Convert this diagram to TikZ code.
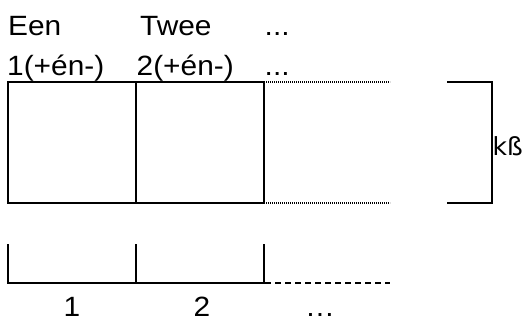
\documentclass[tikz,border=0pt]{standalone}
\usepackage{fontspec}
\setmainfont[FakeStretch=1.07]{Liberation Sans}
\newfontfamily\kfont{DejaVu Sans}
\begin{document}
\begin{tikzpicture}[x=1bp,y=-1bp,
  lbl/.style={inner sep=0pt,anchor=base west,font=\fontsize{28}{28}\selectfont},
  clbl/.style={inner sep=0pt,anchor=base,font=\fontsize{28}{28}\selectfont},
  solidline/.style={line width=2.2bp},
  dotline/.style={line width=1.2bp,dash pattern=on 1.2bp off 0.8bp},
  dashline/.style={line width=1.6bp,dash pattern=on 6bp off 4bp}]
\useasboundingbox (0,0) rectangle (528,320);
% header texts
\node[lbl] (een) at (8,35) {Een};
\node[lbl] (twee) at (140,35) {Twee};
\node[lbl] (dots1) at (264.5,35) {...};
\node[lbl] (one) at (7,75) {1(+én-)};
\node[lbl] (two) at (136.5,75) {2(+én-)};
\node[lbl] (dots2) at (264.5,75) {...};
% top boxes
\draw[solidline] (8,82) rectangle (136,203);
\draw[solidline] (136,82) rectangle (264,203);
\draw[dotline] (264,82) -- (390,82);
\draw[dotline] (264,203) -- (390,203);
% bracket
\draw[solidline] (447,82) -- (492,82) -- (492,203) -- (447,203);
\node[inner sep=0pt,anchor=base west,font=\kfont\fontsize{25}{25}\selectfont] (kb) at (492.5,155) {kß};
% bottom scale
\draw[solidline] (8,244) -- (8,283) -- (264,283) -- (264,244);
\draw[solidline] (136,244) -- (136,283);
\draw[dashline] (265,283) -- (390,283);
\node[clbl] (b1) at (72,316.5) {1};
\node[clbl] (b2) at (202,316.5) {2};
\node[clbl] (b3) at (320,316.5) {…};
\end{tikzpicture}
\end{document}
